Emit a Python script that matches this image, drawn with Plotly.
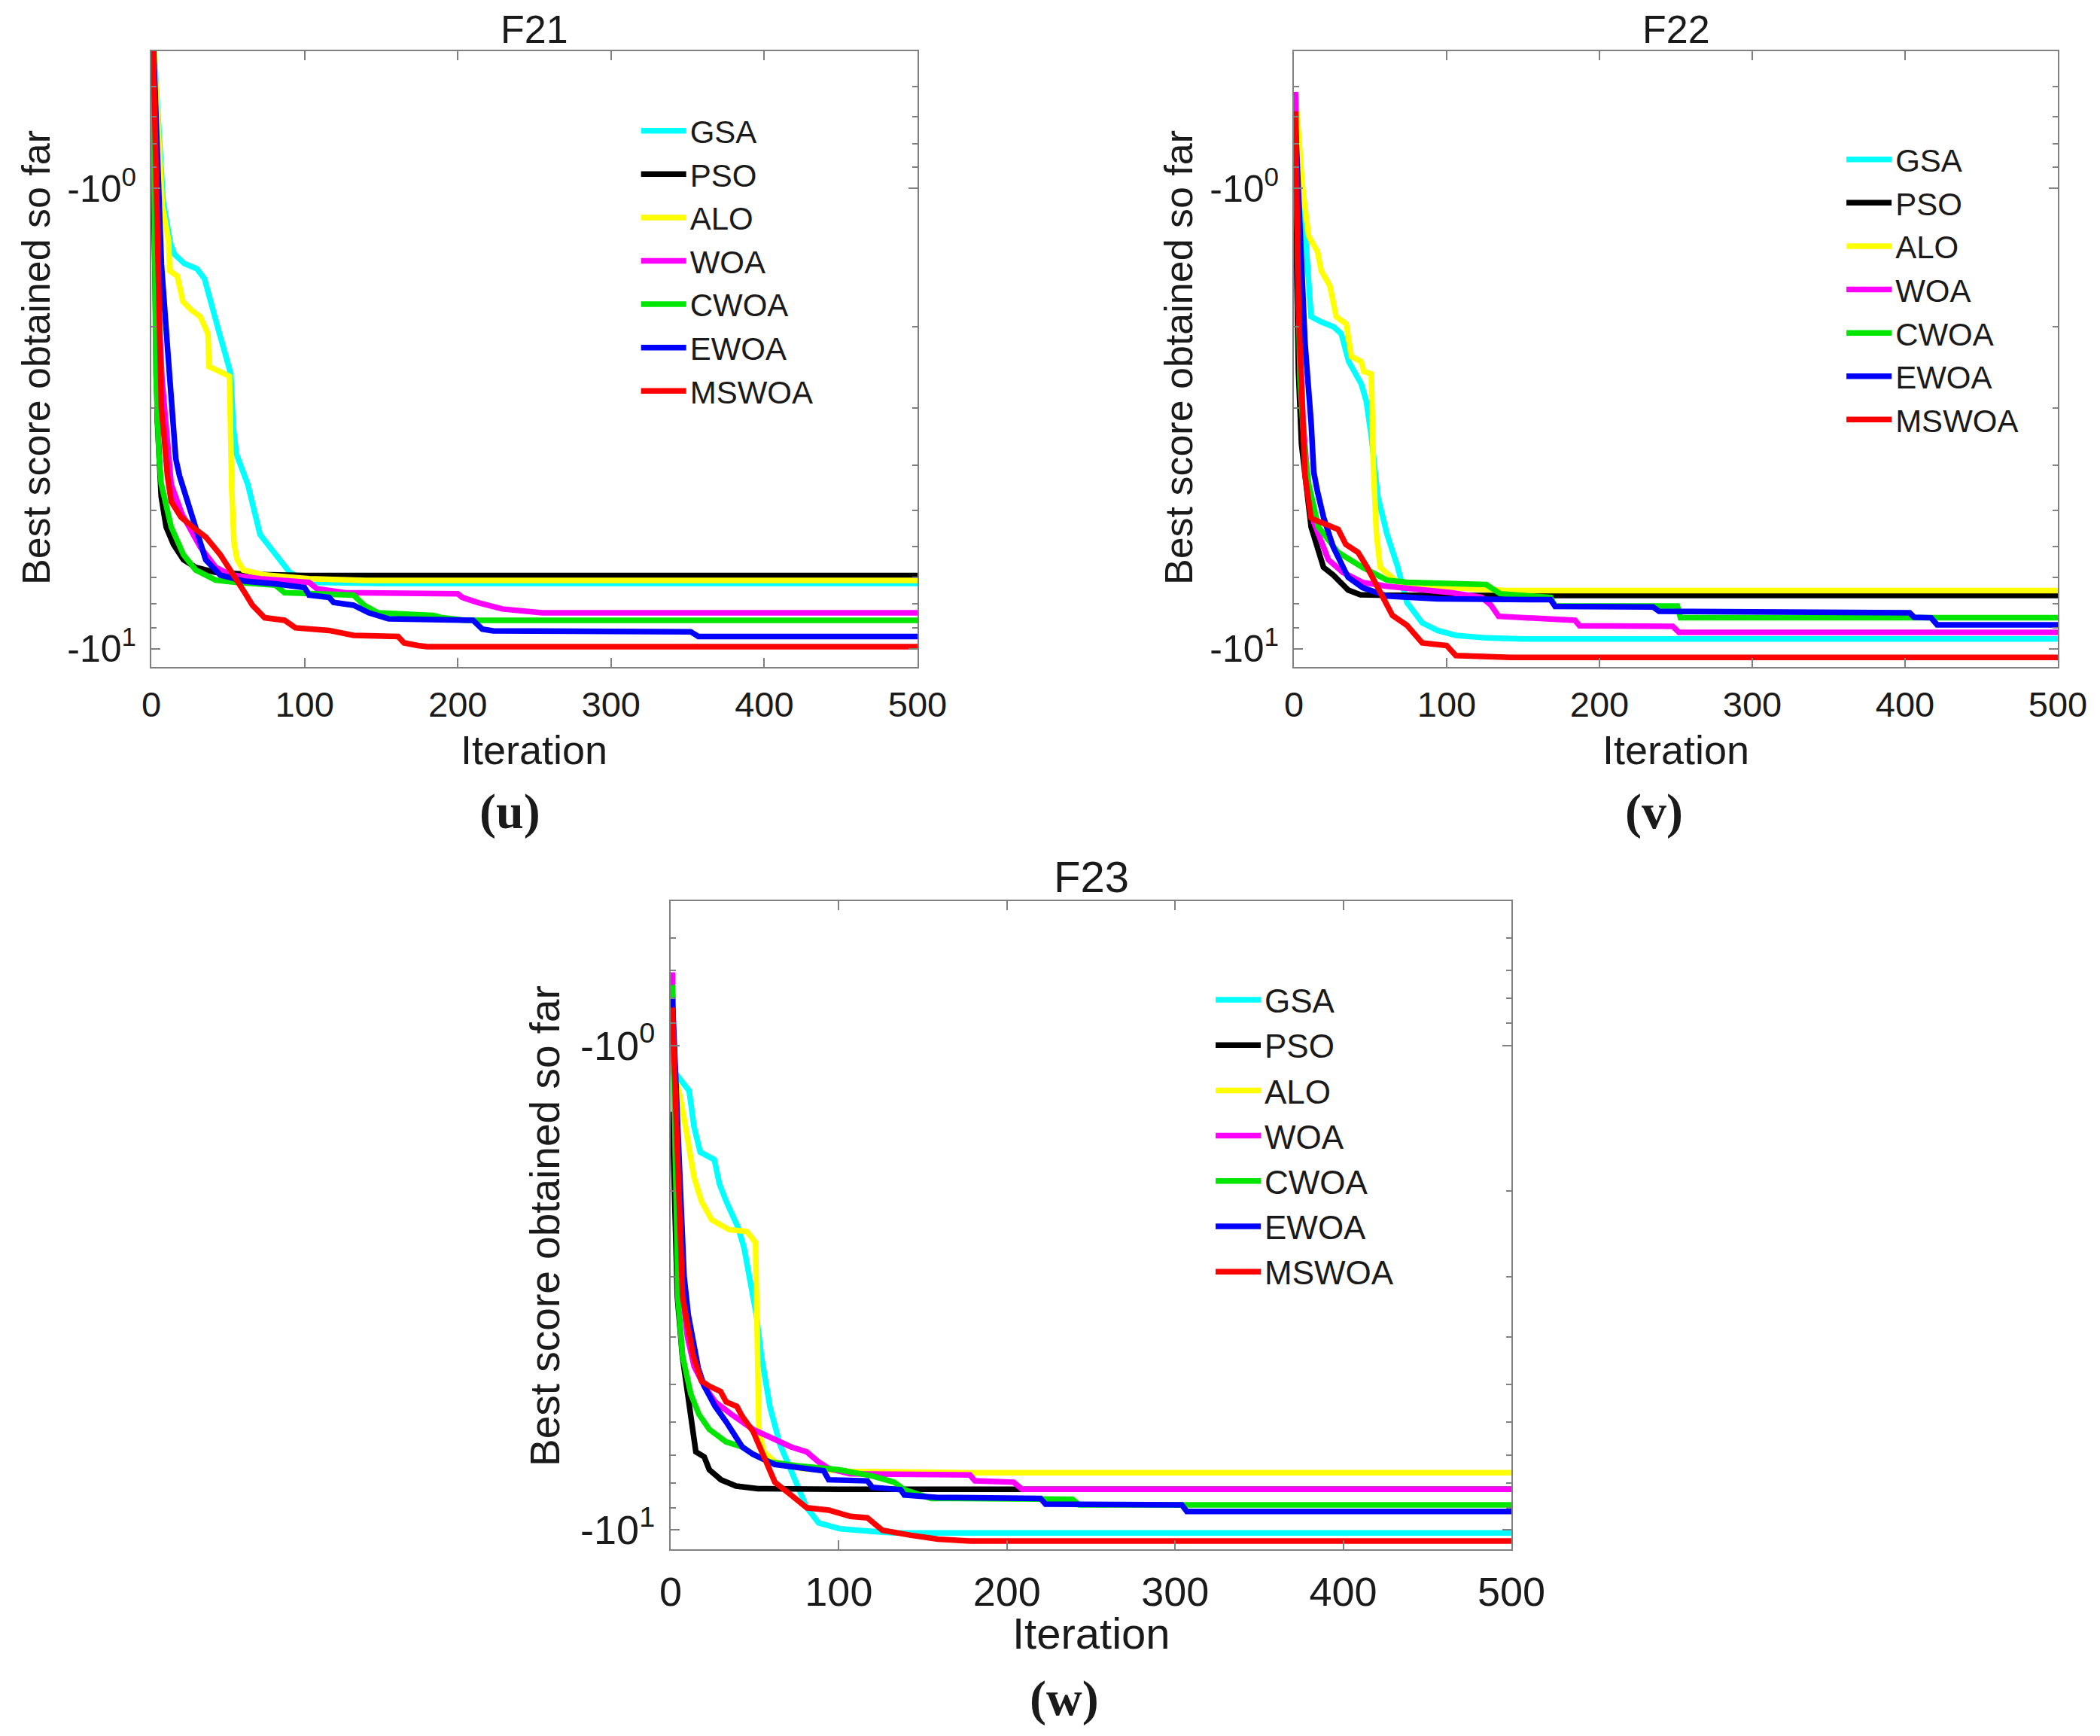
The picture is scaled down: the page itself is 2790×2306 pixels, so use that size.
import plotly.graph_objs as go

algorithms = ['GSA', 'PSO', 'ALO', 'WOA', 'CWOA', 'EWOA', 'MSWOA']
colors = ['#00FFFF', '#000000', '#FFFF00', '#FF00FF', '#00E600', '#0000FF', '#FF0000']

# ---- F21: best score vs iteration ----
f21_gsa_it = [1, 7.7, 12.6, 15.1, 21.6, 29.8, 34.7, 38, 41.3, 44.5, 47.8, 51.9, 53.5, 55.6, 62.9, 71, 77.4, 83.9, 90.3, 103, 150, 500]
f21_gsa = [-0.45, -1.065, -1.32, -1.39, -1.457, -1.495, -1.571, -1.71, -1.90, -2.07, -2.26, -2.53, -3.3, -3.78, -4.39, -5.65, -6.02, -6.41, -6.83, -7.18, -7.22, -7.22]
f21_pso_it = [1, 2.5, 4, 6.5, 9.7, 14.5, 21, 29, 42, 61, 100, 500]
f21_pso = [-0.80, -2.0, -3.2, -4.68, -5.44, -5.94, -6.41, -6.66, -6.83, -6.89, -6.94, -6.94]
f21_alo_it = [1, 7.2, 11.3, 12, 17, 20.6, 26.3, 32, 37, 37.7, 44.5, 51, 52.5, 54, 56, 60, 74, 103, 140, 500]
f21_alo = [-0.45, -1.09, -1.30, -1.51, -1.55, -1.76, -1.84, -1.90, -2.07, -2.44, -2.50, -2.56, -4.5, -5.9, -6.4, -6.75, -6.92, -7.05, -7.11, -7.11]
f21_woa_it = [1, 4, 7, 10, 13, 20, 26, 32, 42, 52, 71, 103, 108, 126, 200, 203, 213, 229, 255, 500]
f21_woa = [-0.45, -1.6, -2.6, -3.46, -4.4, -5.1, -5.51, -6.02, -6.66, -6.92, -7.05, -7.18, -7.41, -7.56, -7.60, -7.74, -7.94, -8.20, -8.36, -8.36]
f21_cwoa_it = [1, 3, 5, 6.5, 13, 21, 29, 42, 55, 81, 87, 100, 132, 139, 148, 184, 190, 205, 500]
f21_cwoa = [-0.45, -2.5, -3.8, -4.39, -5.44, -6.25, -6.75, -7.10, -7.18, -7.28, -7.56, -7.60, -7.65, -8.05, -8.36, -8.47, -8.57, -8.68, -8.68]
f21_ewoa_it = [1, 6.6, 10.5, 14.5, 16, 18.4, 22.6, 26.2, 29, 35.5, 45, 61, 81, 100, 103, 116, 119, 132, 142, 155, 210, 216, 223, 352, 357, 500]
f21_ewoa = [-0.45, -1.46, -2.2, -3.4, -3.87, -4.21, -4.68, -5.19, -5.51, -6.41, -6.92, -7.14, -7.23, -7.37, -7.65, -7.74, -7.94, -8.05, -8.36, -8.62, -8.68, -9.07, -9.15, -9.19, -9.41, -9.41]
f21_mswoa_it = [1, 4.7, 6.6, 8.5, 10.5, 13, 19.4, 29, 35.5, 45, 55, 61, 66, 74, 87, 94, 116, 132, 161, 165, 174, 180, 500]
f21_mswoa = [-0.45, -1.9, -3.0, -3.5, -4.2, -4.79, -5.18, -5.51, -5.72, -6.25, -7.0, -7.56, -8.05, -8.57, -8.68, -9.01, -9.13, -9.36, -9.41, -9.72, -9.85, -9.90, -9.90]

# ---- F22 ----
f22_gsa_it = [1, 7.2, 9.7, 11.3, 17.9, 26.1, 31, 35.9, 44.1, 47.4, 50.7, 55, 61, 68, 74, 84, 94, 106, 126, 150, 500]
f22_gsa = [-0.62, -1.24, -1.55, -1.90, -1.95, -2.0, -2.07, -2.38, -2.66, -2.90, -3.46, -4.68, -5.65, -6.66, -7.94, -8.79, -9.13, -9.36, -9.48, -9.53, -9.53]
f22_pso_it = [1, 3, 5, 8, 11.3, 19.4, 25.8, 35.5, 43.5, 61, 100, 500]
f22_pso = [-0.99, -2.5, -3.6, -4.39, -5.44, -6.66, -6.92, -7.46, -7.64, -7.66, -7.67, -7.67]
f22_alo_it = [1, 5.6, 9.7, 15.4, 17.9, 23.6, 27.7, 34.3, 37.6, 44.1, 45.8, 50.7, 52, 54, 56.5, 68, 103, 139, 500]
f22_alo = [-0.62, -0.99, -1.27, -1.37, -1.51, -1.63, -1.90, -1.97, -2.32, -2.38, -2.50, -2.53, -4.0, -5.6, -6.66, -7.18, -7.37, -7.48, -7.48]
f22_woa_it = [1, 3, 6, 9, 13, 22.6, 32, 45, 61, 103, 123, 129, 134, 184, 187, 248, 252, 500]
f22_woa = [-0.617, -1.8, -3.2, -4.3, -5.31, -6.41, -6.83, -7.18, -7.32, -7.56, -7.74, -8.05, -8.51, -8.68, -8.92, -8.95, -9.22, -9.22]
f22_cwoa_it = [1, 4, 7, 9.7, 16, 29, 45, 61, 74, 126, 129, 135, 168, 171, 251, 253, 500]
f22_cwoa = [-0.70, -2.6, -3.7, -4.39, -5.44, -6.18, -6.66, -7.10, -7.18, -7.26, -7.37, -7.60, -7.74, -8.08, -8.08, -8.57, -8.57]
f22_ewoa_it = [1, 7.3, 11.3, 13, 15.4, 19.4, 25.8, 35.5, 45, 61, 94, 168, 171, 235, 239, 403, 406, 417, 421, 500]
f22_ewoa = [-0.72, -2.17, -3.23, -4.13, -4.55, -5.18, -6.02, -7.0, -7.37, -7.69, -7.80, -7.83, -8.10, -8.12, -8.30, -8.36, -8.55, -8.57, -8.88, -8.88]
f22_mswoa_it = [1, 3.2, 7.3, 11.3, 13, 19.4, 29, 34, 42, 48, 58, 64.5, 74, 84, 100, 106, 142, 500]
f22_mswoa = [-0.68, -1.90, -4.21, -5.2, -5.24, -5.35, -5.51, -5.94, -6.18, -6.66, -7.74, -8.47, -8.90, -9.72, -9.85, -10.35, -10.45, -10.45]

# ---- F23 ----
f23_gsa_it = [1, 5.5, 11, 13.9, 17.6, 26, 29, 33.1, 40, 43.6, 48, 51, 54, 59, 65, 75, 81, 88, 101, 120, 133, 500]
f23_gsa = [-1.12, -1.17, -1.24, -1.47, -1.66, -1.72, -1.93, -2.10, -2.37, -2.61, -3.16, -3.6, -4.38, -5.56, -6.66, -7.98, -9.0, -9.67, -9.95, -10.07, -10.14, -10.14]
f23_pso_it = [1, 2.5, 4, 7, 12, 15, 20, 23, 30, 39, 52, 100, 500]
f23_pso = [-1.37, -2.5, -3.3, -4.38, -5.98, -6.9, -7.07, -7.51, -7.88, -8.12, -8.22, -8.24, -8.24]
f23_alo_it = [1, 5.5, 9.3, 13.9, 18.4, 24.4, 34.8, 45.3, 50.5, 51.5, 52.5, 55.5, 62, 78, 107, 178, 500]
f23_alo = [-1.12, -1.27, -1.50, -1.87, -2.10, -2.29, -2.40, -2.42, -2.55, -4.0, -6.26, -6.90, -7.24, -7.47, -7.57, -7.62, -7.62]
f23_woa_it = [1, 3, 6, 10, 14, 20, 26.5, 36, 49, 62, 71.6, 81, 88, 94, 107, 178, 181, 204, 209, 500]
f23_woa = [-0.706, -1.8, -3.0, -4.0, -4.6, -5.05, -5.44, -5.77, -6.20, -6.50, -6.74, -6.90, -7.24, -7.47, -7.66, -7.70, -7.92, -7.97, -8.24, -8.24]
f23_cwoa_it = [1, 3, 4.4, 7.1, 12, 16.8, 23, 33, 42.6, 49, 58.7, 75, 94, 100, 120, 133, 139, 155, 239, 243, 500]
f23_cwoa = [-0.75, -2.2, -3.34, -4.38, -5.24, -5.77, -6.20, -6.58, -6.74, -6.98, -7.24, -7.37, -7.47, -7.51, -7.74, -7.97, -8.26, -8.61, -8.64, -8.88, -8.88]
f23_ewoa_it = [1, 6.4, 8, 10.5, 13.5, 16.4, 20, 26.5, 33, 42.6, 49, 62, 91, 94, 117, 120, 136.8, 139, 159, 220, 223, 304, 307, 500]
f23_ewoa = [-0.796, -2.22, -3.0, -3.6, -4.17, -4.63, -5.05, -5.56, -5.98, -6.74, -6.98, -7.33, -7.55, -7.88, -7.92, -8.17, -8.26, -8.47, -8.57, -8.61, -8.85, -8.88, -9.16, -9.16]
f23_mswoa_it = [1, 5, 7.1, 10.4, 13.5, 18.4, 23, 29.7, 33, 39.4, 42.6, 49, 55.5, 62, 71.6, 81, 94, 107, 117, 126, 143, 159, 178, 500]
f23_mswoa = [-0.835, -2.2, -3.3, -3.83, -4.38, -4.93, -5.05, -5.18, -5.44, -5.56, -5.83, -6.26, -7.07, -7.97, -8.47, -9.0, -9.10, -9.38, -9.44, -10.02, -10.26, -10.45, -10.54, -10.54]

panels = [
    ('x', 'y', 'legend', [(f21_gsa_it, f21_gsa), (f21_pso_it, f21_pso), (f21_alo_it, f21_alo), (f21_woa_it, f21_woa),
                          (f21_cwoa_it, f21_cwoa), (f21_ewoa_it, f21_ewoa), (f21_mswoa_it, f21_mswoa)]),
    ('x2', 'y2', 'legend2', [(f22_gsa_it, f22_gsa), (f22_pso_it, f22_pso), (f22_alo_it, f22_alo), (f22_woa_it, f22_woa),
                             (f22_cwoa_it, f22_cwoa), (f22_ewoa_it, f22_ewoa), (f22_mswoa_it, f22_mswoa)]),
    ('x3', 'y3', 'legend3', [(f23_gsa_it, f23_gsa), (f23_pso_it, f23_pso), (f23_alo_it, f23_alo), (f23_woa_it, f23_woa),
                             (f23_cwoa_it, f23_cwoa), (f23_ewoa_it, f23_ewoa), (f23_mswoa_it, f23_mswoa)]),
]

data = []
for xa, ya, lg, curves in panels:
    for name, color, (it, score) in zip(algorithms, colors, curves):
        data.append(go.Scatter(
            x=it,
            # log axis of the magnitude, labelled as negative powers of ten
            y=[-s for s in score],
            mode='lines',
            name=name,
            line=dict(color=color, width=7.5),
            xaxis=xa,
            yaxis=ya,
            legend=lg
        ))

FONT = 'Liberation Sans, Arial, sans-serif'
SERIF = 'Liberation Serif, Times New Roman, serif'
AX = '#808080'
TXT = '#1a1a1a'


def xax(domain, anchor, size):
    return dict(domain=domain, anchor=anchor, range=[0, 500], tickvals=[0, 100, 200, 300, 400, 500],
                ticks='inside', ticklen=12, tickwidth=2, tickcolor=AX, showline=True, linecolor=AX,
                linewidth=2, mirror='ticks', showgrid=False, zeroline=False, automargin=False,
                tickfont=dict(family=FONT, size=size, color=TXT), ticklabelstandoff=8)


def yax(domain, anchor, size):
    return dict(domain=domain, anchor=anchor, type='log', range=[1.040, -0.298],
                tickvals=[1, 10], ticktext=['-10<sup>0</sup>', '-10<sup>1</sup>'],
                ticks='inside', ticklen=12, tickwidth=2, tickcolor=AX, showline=True, linecolor=AX,
                linewidth=2, mirror='ticks', showgrid=False, zeroline=False, automargin=False,
                tickfont=dict(family=FONT, size=size, color=TXT), ticklabelstandoff=8,
                minor=dict(tickvals=[0.6, 0.7, 0.8, 0.9, 2, 3, 4, 5, 6, 7, 8, 9], ticks='inside',
                           ticklen=7, tickwidth=2, tickcolor=AX, showgrid=False))


def legend(x, y, size):
    return dict(x=x, y=y, xanchor='left', yanchor='top', bgcolor='rgba(0,0,0,0)', borderwidth=0,
                font=dict(family=FONT, size=size, color=TXT), itemwidth=60, tracegroupgap=0)


def label(text, x, y, size, angle=0, family=FONT, yanchor='middle'):
    return dict(text=text, x=x, y=y, xref='paper', yref='paper', xanchor='center', yanchor=yanchor,
                showarrow=False, textangle=angle, font=dict(family=family, size=size, color=TXT))


layout = go.Layout(
    width=2790,
    height=2306,
    margin=dict(l=0, r=0, t=0, b=0, autoexpand=False),
    paper_bgcolor='white',
    plot_bgcolor='white',
    xaxis=xax([0.06917, 0.43405], 'y', 47),
    yaxis=yax([0.61925, 0.97398], 'x', 50),
    xaxis2=xax([0.61326, 0.97706], 'y2', 47),
    yaxis2=yax([0.61925, 0.97398], 'x2', 50),
    xaxis3=xax([0.31648, 0.71684], 'y3', 54),
    yaxis3=yax([0.11102, 0.48439], 'x3', 54),
    legend=legend(0.3006, 0.9428, 42),
    legend2=legend(0.8746, 0.9263, 42),
    legend3=legend(0.5742, 0.4428, 44),
    annotations=[
        label('F21', 0.2516, 1.0, 52, yanchor='top'),
        label('F22', 0.7953, 1.0, 52, yanchor='top'),
        label('F23', 0.5168, 0.49827, 58),
        label('Iteration', 0.2516, 0.57157, 54),
        label('Iteration', 0.7953, 0.57157, 54),
        label('Iteration', 0.5168, 0.06247, 58),
        label('Best score obtained so far', 0.01433, 0.79747, 52, -90),
        label('Best score obtained so far', 0.55843, 0.79747, 52, -90),
        label('Best score obtained so far', 0.25663, 0.29747, 55, -90),
        label('<b>(u)</b>', 0.24013, 0.53597, 66, family=SERIF),
        label('<b>(v)</b>', 0.78463, 0.53597, 66, family=SERIF),
        label('<b>(w)</b>', 0.50393, 0.02515, 66, family=SERIF),
    ],
    showlegend=True
)

fig = go.Figure(data=data, layout=layout)

fig.write_html("out.html")
